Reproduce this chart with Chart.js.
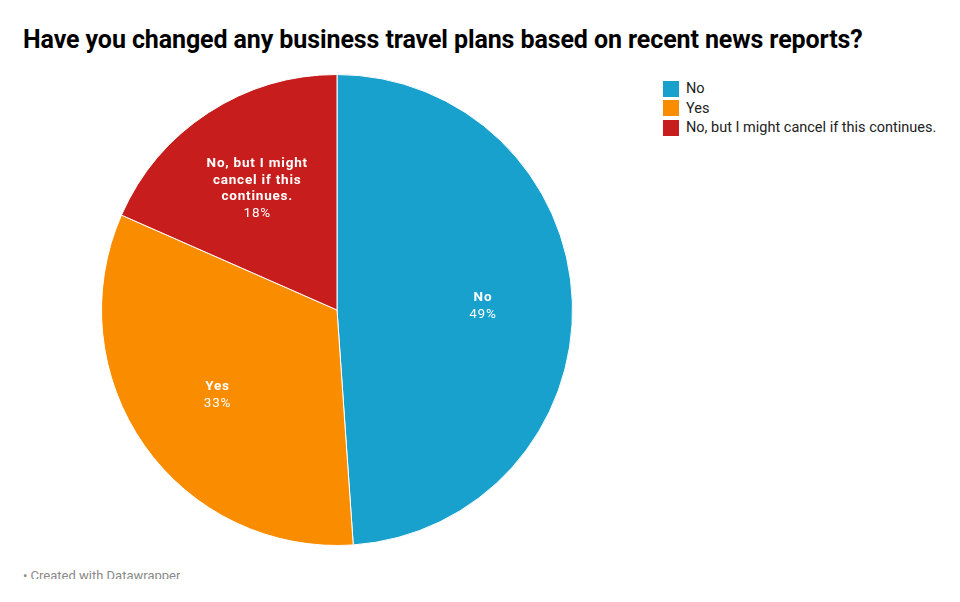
<!DOCTYPE html>
<html><head><meta charset="utf-8">
<script src="https://cdn.jsdelivr.net/npm/chart.js@4"></script>
<style>
html,body{margin:0;padding:0;background:#fff;width:960px;height:602px;overflow:hidden;font-family:Roboto,"Noto Sans",sans-serif;}
#title{position:absolute;left:23px;top:25px;font-size:25px;font-weight:700;color:#000;white-space:nowrap;letter-spacing:-0.1px;}
#wrap{position:absolute;left:91px;top:64px;width:492px;height:492px;}
#legend{position:absolute;left:663px;top:79px;font-size:14.5px;color:#222;}
.li{display:flex;align-items:center;height:19.5px;}
.sw{width:16px;height:16px;margin-right:7px;}
#foot{position:absolute;left:23px;top:566px;height:13px;overflow:hidden;font-size:13px;color:#8a8a8a;line-height:20px;white-space:nowrap;}
</style></head><body>
<div id="title">Have you changed any business travel plans based on recent news reports?</div>
<div id="wrap"><canvas id="c" width="492" height="492"></canvas></div>
<div id="legend"></div>
<div id="foot">• Created with Datawrapper</div>
<script>
const categories = ["No", "Yes", "No, but I might cancel if this continues."];
const values = [48.9, 32.7, 18.4];
const colors = ["#18a1cd", "#fa8c00", "#c71e1d"];
const labelLines = [["No"], ["Yes"], ["No, but I might", "cancel if this", "continues."]];

const leg = document.getElementById('legend');
categories.forEach((c,i)=>{
  const d=document.createElement('div');d.className='li';
  d.innerHTML='<div class="sw" style="background:'+colors[i]+'"></div><span>'+c+'</span>';
  leg.appendChild(d);
});

const labelPlugin = {
  id:'sliceLabels',
  afterDatasetsDraw(chart){
    const ctx=chart.ctx;
    const meta=chart.getDatasetMeta(0);
    meta.data.forEach((arc,i)=>{
      const mid=(arc.startAngle+arc.endAngle)/2;
      const r=arc.outerRadius*0.62;
      const x=arc.x+Math.cos(mid)*r;
      const y=arc.y+Math.sin(mid)*r;
      const lines=labelLines[i];
      const total=lines.length+1;
      const lh=16.5;
      let y0=y-(total-1)*lh/2+1;
      ctx.save();
      ctx.fillStyle='#fff';
      ctx.textAlign='center';
      ctx.textBaseline='middle';
      try{ctx.letterSpacing='0.8px';}catch(e){}
      lines.forEach((t,k)=>{
        ctx.font='700 13.5px Roboto';
        ctx.fillText(t,x,y0+k*lh);
      });
      ctx.font='400 13.5px Roboto';
      ctx.fillText(Math.round(values[i])+'%',x,y0+lines.length*lh);
      ctx.restore();
    });
  }
};

new Chart(document.getElementById('c'),{
  type:'pie',
  data:{labels:categories,datasets:[{data:values,backgroundColor:colors,borderColor:'#fff',borderWidth:1}]},
  options:{
    responsive:false,animation:false,
    layout:{padding:10},
    plugins:{legend:{display:false},tooltip:{enabled:false}}
  },
  plugins:[labelPlugin]
});
</script>
</body></html>
